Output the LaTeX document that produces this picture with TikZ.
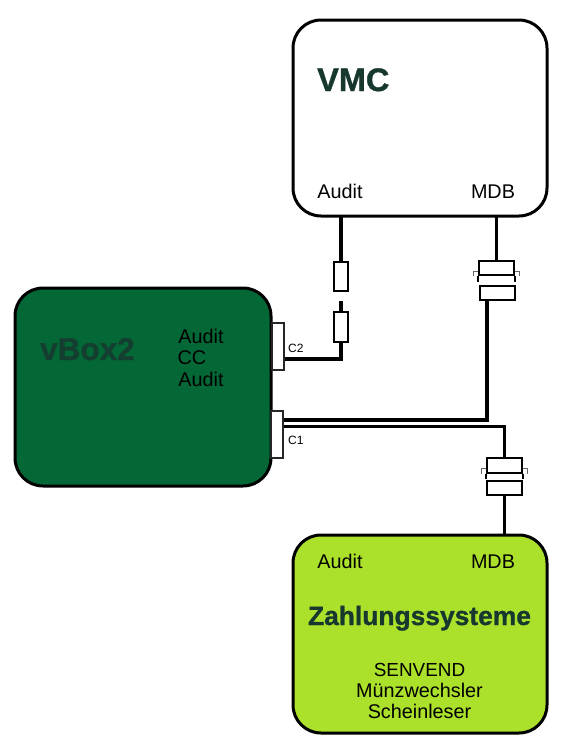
\documentclass[tikz,border=0pt]{standalone}
\usepackage{fontspec}
\setmainfont{Liberation Sans}
\newfontfamily\titlefont[FakeBold=1]{Liberation Sans Bold}
\definecolor{boxgreen}{HTML}{046836}
\definecolor{lime}{HTML}{ABE12B}
\definecolor{titlecol}{HTML}{17382F}
\tikzset{
  x=1pt,y=-1pt,
  panel/.style={draw=black,line width=3pt,rounded corners=28pt,inner sep=0},
  wire/.style={draw=black,line width=3.6pt},
  plug/.style={draw=black,fill=white,line width=1.7pt,inner sep=0,minimum width=0},
  port/.style={draw=black!85,fill=white,line width=1.3pt,inner sep=0},
  thin part/.style={draw=black,line width=1.7pt},
  tick/.style={draw=black!60,line width=0.9pt},
  lab/.style={font=\fontsize{19.8}{22}\selectfont,inner sep=0,anchor=base},
  small/.style={font=\fontsize{12}{14}\selectfont,inner sep=0,anchor=base west},
  title/.style={font=\fontsize{#1}{#1}\selectfont\titlefont,inner sep=0,anchor=base west,text=titlecol}
}
\begin{document}
\begin{tikzpicture}
\useasboundingbox (0,0) rectangle (563,750);
\fill[white] (0,0) rectangle (563,750);
% panels
\path[panel,fill=white] (293,20) rectangle (547,216);
\path[panel,fill=boxgreen] (15,288) rectangle (271,486);
\path[panel,fill=lime] (293,535) rectangle (547,733);
\coordinate (vmcA) at (341,216);
\coordinate (vmcM) at (496.5,216);
\coordinate (payM) at (504.5,535);
% named parts
\node[plug,minimum width=14.5pt,minimum height=29pt] (a1) at (341,276.5) {};
\node[plug,minimum width=14.5pt,minimum height=30pt] (a2) at (341,327) {};
\coordinate (stub) at (341,301);
\node[port,minimum width=12pt,minimum height=47pt] (c2) at (278,346.5) {};
\node[port,minimum width=12pt,minimum height=47pt] (c1) at (277,434.5) {};
\node[plug,minimum width=35pt,minimum height=14.5pt] (m1) at (496.5,268) {};
\node[plug,minimum width=35pt,minimum height=14.5pt] (m2) at (497.5,293) {};
\node[plug,minimum width=35pt,minimum height=14.5pt] (p1) at (504.5,465.5) {};
\node[plug,minimum width=35pt,minimum height=14.5pt] (p2) at (504.5,488) {};
% wires
\draw[wire] (vmcA) -- (a1.north);
\draw[wire] (stub) -- (a2.north);
\draw[wire] (a2.south) -- (341,359) -- (c2.east |- 0,359);
\draw[wire] (vmcM) -- (m1.north);
\draw[wire] (m2.south -| 487,0) -- (487,420) -- (c1.east |- 0,420);
\draw[wire] (c1.east |- 0,426.5) -- (504.5,426.5) -- (p1.north);
\draw[wire] (p2.south) -- (payM);
% redraw ports above wire ends
\node[port,minimum width=12pt,minimum height=47pt] at (c2) {};
\node[port,minimum width=12pt,minimum height=47pt] at (c1) {};
% connector latches
\draw[thin part] (m1.south west) -- ++(0,5.5);
\draw[thin part] (m1.south east) -- ++(0,5.5);
\draw[tick] (m1.south west) ++(0,-5) -- ++(-5,0) -- ++(0,5);
\draw[tick] (m1.south east) ++(0,-5) -- ++(5,0) -- ++(0,5);
\draw[thin part] (p1.south west) -- ++(0,5.5);
\draw[thin part] (p1.south east) -- ++(0,5.5);
\draw[tick] (p1.south west) ++(0,-5) -- ++(-5,0) -- ++(0,5);
\draw[tick] (p1.south east) ++(0,-5) -- ++(5,0) -- ++(0,5);
% texts
\node[title=32.5,anchor=base west] (tvmc) at (317,91) {VMC};
\node[lab] (va) at (340,198) {Audit};
\node[lab] (vm) at (493,198) {MDB};
\node[title=31.5,anchor=base west,text=titlecol!85!boxgreen] (tvb) at (40,360) {vBox2};
\node[lab] (l1) at (201,343) {Audit};
\node[lab] (l2) at (192,364) {CC};
\node[lab] (l3) at (201,386) {Audit};
\node[small] (tc2) at (288,352) {C2};
\node[small] (tc1) at (288,444) {C1};
\node[lab] (pa) at (340,568) {Audit};
\node[lab] (pm) at (493,568) {MDB};
\node[title=26.4,anchor=base] (tz) at (419.5,625) {Zahlungssysteme};
\node[lab,font=\fontsize{18.9}{22}\selectfont] (s1) at (419.5,676) {SENVEND};
\node[lab] (s2) at (419.5,697) {Münzwechsler};
\node[lab] (s3) at (419.5,718) {Scheinleser};
\end{tikzpicture}
\end{document}
